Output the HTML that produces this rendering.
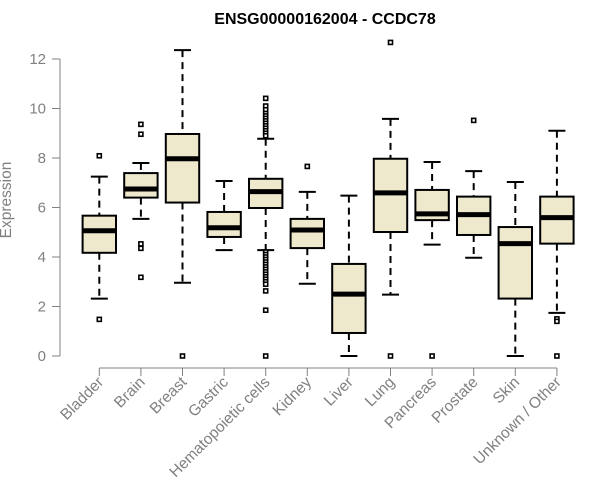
<!DOCTYPE html>
<html><head><meta charset="utf-8"><style>
html,body{margin:0;padding:0;background:#fff;}
svg{display:block;font-family:"Liberation Sans",Arial,sans-serif;}
</style></head><body>
<svg id="chart" width="600" height="500"></svg>
<script>
const categories=["Bladder","Brain","Breast","Gastric","Hematopoietic cells","Kidney","Liver","Lung","Pancreas","Prostate","Skin","Unknown / Other"];
const whiskerLow=[2.32,5.54,2.96,4.28,4.28,2.92,0.0,2.48,4.5,3.97,0.0,1.74];
const q1Values=[4.17,6.4,6.2,4.81,5.98,4.36,0.93,5.01,5.49,4.89,2.32,4.54];
const medianValues=[5.06,6.75,7.97,5.18,6.64,5.09,2.5,6.59,5.74,5.71,4.54,5.59];
const q3Values=[5.67,7.39,8.97,5.82,7.16,5.54,3.72,7.97,6.71,6.44,5.21,6.44];
const whiskerHigh=[7.25,7.8,12.36,7.07,8.78,6.63,6.48,9.58,7.84,7.47,7.03,9.1];
const outlierValues=[[8.09,1.48],[9.36,8.96,4.53,4.35,3.18],[0],[],
 [10.41,10.1,9.95,9.8,9.7,9.6,9.5,9.4,9.3,9.2,9.1,9.0,8.9,4.2,4.1,4.0,3.9,3.8,3.7,3.6,3.5,3.4,3.3,3.2,3.1,3.0,2.9,2.63,1.85,0],
 [7.66],[],[12.67,0],[0],[9.52],[],[1.5,1.4,0]];
const yTicks=[0,2,4,6,8,10,12];

const NS="http://www.w3.org/2000/svg";
const svg=document.getElementById("chart");
const x0=99.3,dx=41.6;
function xPos(i){return x0+i*dx;}
function yPos(v){return 356-24.75*v;}
function mk(tag,attrs,parent){const e=document.createElementNS(NS,tag);for(const k in attrs)e.setAttribute(k,attrs[k]);(parent||svg).appendChild(e);return e;}

const title=mk("text",{x:325,y:24,"text-anchor":"middle","font-size":"16","font-weight":"bold",fill:"#000"});
title.textContent="ENSG00000162004 - CCDC78";



const ylab=mk("text",{x:0,y:0,transform:"translate(11,200) rotate(-90)","text-anchor":"middle","font-size":"15.5",fill:"#808080"});
ylab.textContent="Expression";



const yAxis=mk("g",{});


mk("line",{x1:60,x2:60,y1:yPos(yTicks[0]),y2:yPos(yTicks[yTicks.length-1]),stroke:"#808080","stroke-width":1},yAxis);
yTicks.forEach(t=>{
 mk("line",{x1:52,x2:60,y1:yPos(t),y2:yPos(t),stroke:"#808080","stroke-width":1},yAxis);
 const tl=mk("text",{x:46,y:yPos(t)+5,"text-anchor":"end","font-size":"15",fill:"#808080"},yAxis);
 tl.textContent=t;
 
 
});

const xAxis=mk("g",{});


mk("line",{x1:xPos(0),x2:xPos(categories.length-1),y1:368,y2:368,stroke:"#808080","stroke-width":1},xAxis);
categories.forEach((c,i)=>{
 const x=xPos(i);
 mk("line",{x1:x,x2:x,y1:368,y2:376,stroke:"#808080","stroke-width":1},xAxis);
 const tl=mk("text",{x:0,y:0,transform:`translate(${x+5},${383}) rotate(-45)`,"text-anchor":"end","font-size":"15.5",fill:"#808080"},xAxis);
 tl.textContent=c;
 
 
});

categories.forEach((c,i)=>{
 const x=xPos(i),hw=16.7,cw=8.5;
 const g=mk("g",{});
 
 
 mk("line",{x1:x,x2:x,y1:yPos(whiskerHigh[i]),y2:yPos(q3Values[i]),stroke:"#000","stroke-width":2,"stroke-dasharray":"7,5"},g);
 mk("line",{x1:x,x2:x,y1:yPos(q1Values[i]),y2:yPos(whiskerLow[i]),stroke:"#000","stroke-width":2,"stroke-dasharray":"7,5"},g);
 mk("line",{x1:x-cw,x2:x+cw,y1:yPos(whiskerHigh[i]),y2:yPos(whiskerHigh[i]),stroke:"#000","stroke-width":2},g);
 mk("line",{x1:x-cw,x2:x+cw,y1:yPos(whiskerLow[i]),y2:yPos(whiskerLow[i]),stroke:"#000","stroke-width":2},g);
 mk("rect",{x:x-hw,y:yPos(q3Values[i]),width:2*hw,height:yPos(q1Values[i])-yPos(q3Values[i]),fill:"#EEE8CD",stroke:"#000","stroke-width":2},g);
 mk("line",{x1:x-hw,x2:x+hw,y1:yPos(medianValues[i]),y2:yPos(medianValues[i]),stroke:"#000","stroke-width":5},g);
 outlierValues[i].forEach(v=>{
  const o=mk("rect",{x:x-2,y:yPos(v)-2,width:4,height:4,fill:"#fff",stroke:"#000","stroke-width":1.6},g);
  
  
 });
});
</script>
</body></html>
